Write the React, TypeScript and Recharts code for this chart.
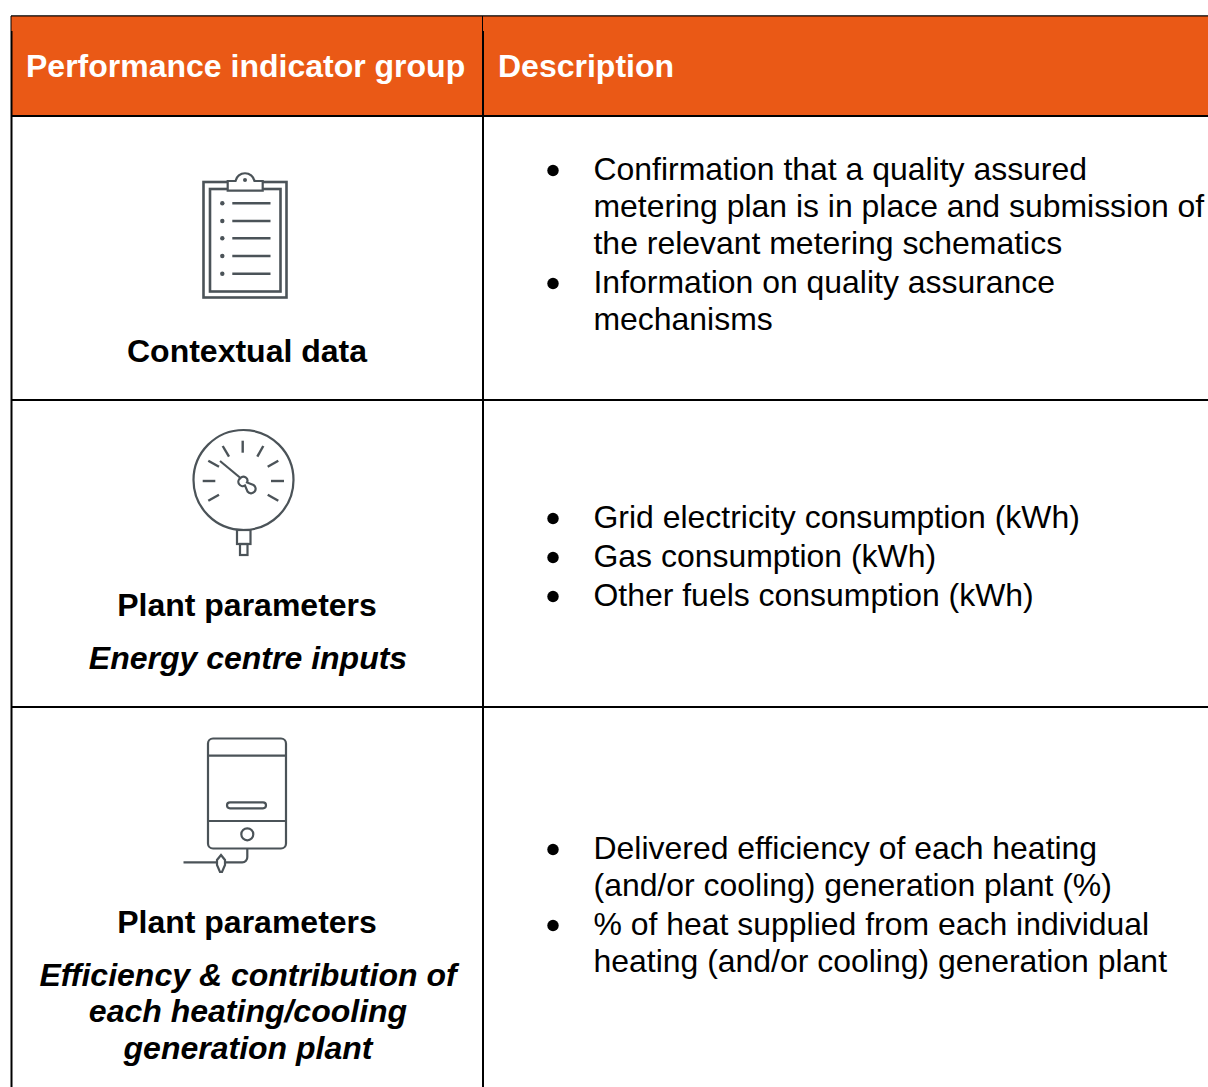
import { ComposedChart, Customized, Line, ReferenceArea, ReferenceDot, ReferenceLine, XAxis, YAxis } from "recharts";

const WIDTH = 1208;
const HEIGHT = 1087;
const FONT = "'Liberation Sans', Arial, sans-serif";
const ORANGE = "#ea5916";
const ICON = "#4b5358";

const headers = ["Performance indicator group", "Description"];
const contextualDescription = [
  "Confirmation that a quality assured",
  "metering plan is in place and submission of",
  "the relevant metering schematics",
  "Information on quality assurance",
  "mechanisms",
];
const inputsDescription = [
  "Grid electricity consumption (kWh)",
  "Gas consumption (kWh)",
  "Other fuels consumption (kWh)",
];
const plantDescription = [
  "Delivered efficiency of each heating",
  "(and/or cooling) generation plant (%)",
  "% of heat supplied from each individual",
  "heating (and/or cooling) generation plant",
];
const groupTitles = ["Contextual data", "Plant parameters", "Plant parameters"];
const inputsSubtitle = ["Energy centre inputs"];
const plantSubtitle = ["Efficiency & contribution of", "each heating/cooling", "generation plant"];

const bulletRows = [170.5, 283.5, 518.5, 557.5, 596.5, 849.5, 925.5];

// the page is used as a pixel grid, so the axes run over the picture's size
const extents = [
  { x: 0, y: 0 },
  { x: WIDTH, y: HEIGHT },
];

const ticks: number[][] = [
  [242.7, 440.7, 242.7, 452.7],
  [263.3, 446, 257.3, 456.7],
  [278.3, 460.7, 267.7, 466.7],
  [284, 481, 271, 481],
  [278.3, 500.7, 267.7, 494.7],
  [222.7, 446, 229, 456.7],
  [208.3, 460.7, 219, 466.7],
  [202.7, 481, 215.3, 481],
  [208.3, 500.7, 219, 494.7],
];
const clipboardRows = [203.3, 221, 238.3, 256, 273.7];

function Body({ x, ys, lines }: { x: number; ys: number[]; lines: string[] }) {
  return (
    <>
      {lines.map((line, i) => (
        <text key={line} x={x} y={ys[i]} fontFamily={FONT} fontSize={31.95} fill="#000">
          {line}
        </text>
      ))}
    </>
  );
}

function Group({ ys, lines, italic }: { ys: number[]; lines: string[]; italic?: boolean }) {
  return (
    <>
      {lines.map((line, i) => (
        <text
          key={line}
          x={italic ? 248 : 247}
          y={ys[i]}
          textAnchor="middle"
          fontFamily={FONT}
          fontSize={32}
          fontWeight={700}
          fontStyle={italic ? "italic" : "normal"}
          fill="#000"
        >
          {line}
        </text>
      ))}
    </>
  );
}

function Icons() {
  return (
    <g fill="none" stroke={ICON} strokeWidth={2.2}>
      {/* clipboard */}
      <rect x={203.5} y={182} width={83} height={115.5} strokeWidth={2.6} />
      <rect x={210} y={189} width={70.5} height={102.5} strokeWidth={2.6} />
      <path d="M227.7 181 H235.5 A9.7 9.7 0 0 1 254.5 181 H262.7 V190.7 H227.7 Z" fill="#fff" />
      <circle cx={245} cy={180} r={2} fill={ICON} stroke="none" />
      {clipboardRows.map((y) => (
        <g key={y}>
          <circle cx={222.3} cy={y} r={2.2} fill={ICON} stroke="none" />
          <line x1={232.3} y1={y} x2={270.5} y2={y} strokeWidth={2.4} />
        </g>
      ))}
      {/* gauge */}
      <circle cx={243.5} cy={480} r={50} />
      {ticks.map((t) => (
        <line key={t.join()} x1={t[0]} y1={t[1]} x2={t[2]} y2={t[3]} strokeWidth={2.4} />
      ))}
      <line x1={220} y1={461} x2={240.5} y2={478} />
      <path d="M240.5 478 A4 4 0 0 1 247 482.5 L253.5 485 A4.5 4.5 0 1 1 247.5 491.5 L245 485.5 A4 4 0 0 1 240.5 478 Z" />
      <rect x={237} y={530} width={13.5} height={14} />
      <rect x={240} y={544} width={7.5} height={11} />
      {/* boiler */}
      <rect x={208} y={738.5} width={78} height={110} rx={5} />
      <line x1={208} y1={755.7} x2={286} y2={755.7} />
      <line x1={208} y1={821} x2={286} y2={821} />
      <rect x={227} y={802.3} width={39} height={6} rx={3} />
      <circle cx={247.3} cy={834.3} r={6} />
      <path d="M247.3 848.5 V857 A5 5 0 0 1 242.3 862.3 H225" />
      <line x1={183.5} y1={862.3} x2={217} y2={862.3} />
      <path d="M221 855 L225 860 L225 865 L222 872 L220 872 L217 865 L217 860 Z" />
    </g>
  );
}

// the reference area paints over Customized, so the header text goes in as its label
function HeaderText() {
  return (
    <g>
      {headers.map((h, i) => (
        <text key={h} x={i === 0 ? 26 : 498} y={77} fontFamily={FONT} fontSize={32} fontWeight={700} fill="#fff">
          {h}
        </text>
      ))}
    </g>
  );
}

function Cells() {
  return (
    <g>
      <Group ys={[362]} lines={[groupTitles[0]]} />
      <Group ys={[616]} lines={[groupTitles[1]]} />
      <Group ys={[669]} lines={inputsSubtitle} italic />
      <Group ys={[933]} lines={[groupTitles[2]]} />
      <Group ys={[986, 1022, 1059]} lines={plantSubtitle} italic />
      <Body x={593.5} ys={[180, 217, 254, 293, 330]} lines={contextualDescription} />
      <Body x={593.5} ys={[528, 567, 606]} lines={inputsDescription} />
      <Body x={593.5} ys={[859, 896, 935, 972]} lines={plantDescription} />
      <Icons />
    </g>
  );
}

export default function App() {
  return (
    <div style={{ position: "absolute", left: 0, top: 0, width: WIDTH, height: HEIGHT, background: "#fff", overflow: "hidden" }}>
      <ComposedChart width={WIDTH} height={HEIGHT} margin={{ top: 0, right: 0, bottom: 0, left: 0 }} data={extents}>
        <XAxis type="number" dataKey="x" domain={[0, WIDTH]} allowDataOverflow hide />
        <YAxis type="number" domain={[0, HEIGHT]} allowDataOverflow reversed hide />
        <Line dataKey="y" stroke="none" dot={false} legendType="none" isAnimationActive={false} />
        <ReferenceArea
          x1={11}
          x2={WIDTH}
          y1={16}
          y2={116}
          fill={ORANGE}
          fillOpacity={1}
          stroke="none"
          ifOverflow="visible"
          label={{ content: () => <HeaderText /> }}
        />
        <ReferenceLine segment={[{ x: 11, y: 15.8 }, { x: WIDTH, y: 15.8 }]} stroke="#000" strokeWidth={1.2} />
        <ReferenceLine segment={[{ x: 11, y: 116 }, { x: WIDTH, y: 116 }]} stroke="#000" strokeWidth={2} />
        <ReferenceLine segment={[{ x: 11, y: 400 }, { x: WIDTH, y: 400 }]} stroke="#000" strokeWidth={2} />
        <ReferenceLine segment={[{ x: 11, y: 707 }, { x: WIDTH, y: 707 }]} stroke="#000" strokeWidth={2} />
        <ReferenceLine segment={[{ x: 11, y: 16 }, { x: 11, y: 31 }]} stroke="#000" strokeWidth={1} />
        <ReferenceLine segment={[{ x: 11.5, y: 31 }, { x: 11.5, y: HEIGHT }]} stroke="#000" strokeWidth={2} />
        <ReferenceLine segment={[{ x: 482.5, y: 16 }, { x: 482.5, y: 31 }]} stroke="#000" strokeWidth={1} />
        <ReferenceLine segment={[{ x: 483, y: 31 }, { x: 483, y: HEIGHT }]} stroke="#000" strokeWidth={2} />
        {bulletRows.map((y) => (
          <ReferenceDot key={y} x={553} y={y} r={5.7} fill="#000" stroke="none" ifOverflow="visible" />
        ))}
        <Customized component={Cells} />
      </ComposedChart>
    </div>
  );
}
